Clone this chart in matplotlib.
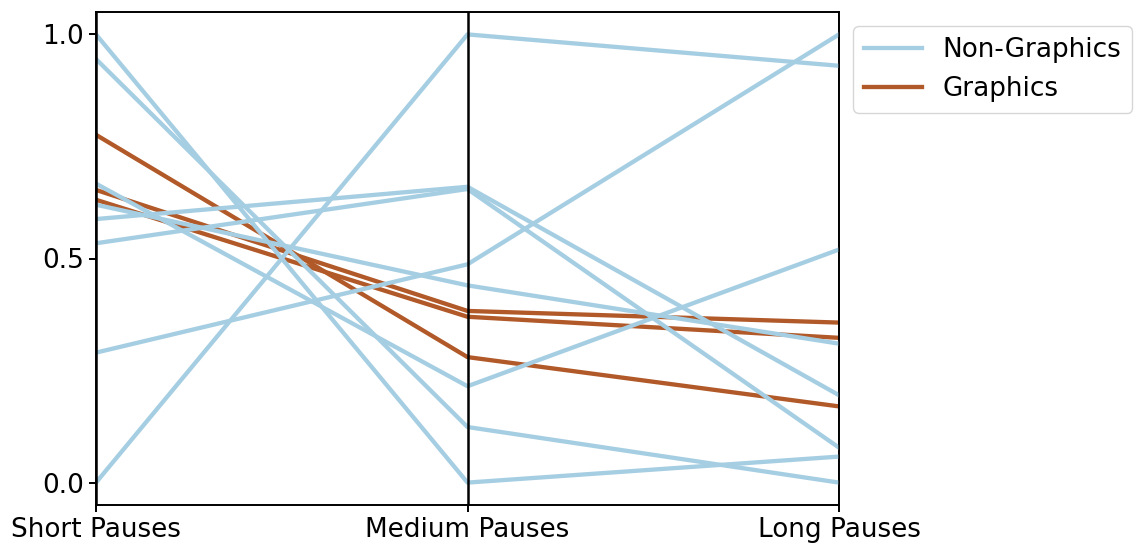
import matplotlib
matplotlib.use("Agg")
import matplotlib.pyplot as plt
from matplotlib.lines import Line2D

# Normalised pause counts per application
axes_labels = ["Short Pauses", "Medium Pauses", "Long Pauses"]
short_pauses = [1.0, 0.945, 0.667, 0.62, 0.588, 0.534, 0.29, 0.0, 0.776, 0.653, 0.631]
medium_pauses = [0.0, 0.124, 0.215, 0.44, 0.66, 0.655, 0.487, 1.0, 0.28, 0.383, 0.37]
long_pauses = [0.058, 0.0, 0.52, 0.31, 0.195, 0.078, 1.0, 0.93, 0.17, 0.357, 0.323]
category = ["Non-Graphics"] * 8 + ["Graphics"] * 3

class_order = ["Non-Graphics", "Graphics"]
class_colors = {"Non-Graphics": "#a6cee3", "Graphics": "#b15928"}
class_z = {"Non-Graphics": 3, "Graphics": 2}

plt.rcParams.update({
    "font.size": 18.9,
    "axes.linewidth": 1.4,
    "xtick.major.size": 5,
    "ytick.major.size": 5,
    "xtick.major.width": 1.4,
    "ytick.major.width": 1.4,
})

fig = plt.figure(figsize=(11.36, 5.49), dpi=100)
ax = fig.add_axes([96 / 1136, 1 - 505 / 549, (839 - 96) / 1136, (505 - 12) / 549])

xs = list(range(len(axes_labels)))
for s, m, l, c in zip(short_pauses, medium_pauses, long_pauses, category):
    ax.plot(xs, [s, m, l], color=class_colors[c], lw=3.1, zorder=class_z[c])

for x in xs:
    ax.axvline(x, color="black", lw=1.8, zorder=4)

ax.set_xticks(xs)
ax.set_xticklabels(axes_labels)
ax.set_xlim(xs[0], xs[-1])
ax.set_ylim(-0.05, 1.05)
ax.set_yticks([0.0, 0.5, 1.0])
ax.set_yticklabels(["0.0", "0.5", "1.0"])

handles = [Line2D([], [], color=class_colors[c], lw=3.1) for c in class_order]
ax.legend(handles, class_order, loc="upper left", bbox_to_anchor=(1.0, 1.0),
          borderaxespad=0.55, handlelength=2.2)

fig.savefig("out.png", dpi=100)
